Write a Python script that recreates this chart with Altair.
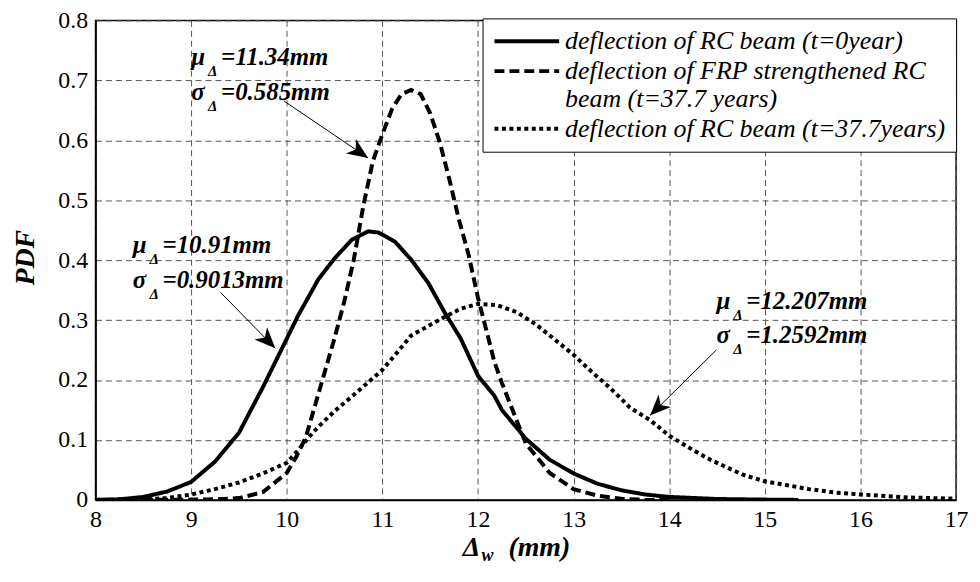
import altair as alt
import pandas as pd

# ---------------- data ----------------
series_names = [
    "deflection of RC beam (t=0year)",
    "deflection of FRP strengthened RC beam (t=37.7 years)",
    "deflection of RC beam (t=37.7years)",
]

x_rc0 = [8.0, 8.25, 8.5, 8.75, 9.0, 9.25, 9.5, 9.75, 10.0, 10.12, 10.33, 10.5, 10.68,
         10.85, 10.96, 11.13, 11.3, 11.48, 11.65, 11.82, 12.0, 12.17, 12.25, 12.5,
         12.75, 13.0, 13.25, 13.5, 13.75, 14.0, 14.5, 15.0, 15.35]
y_rc0 = [0.0, 0.001, 0.005, 0.014, 0.030, 0.064, 0.112, 0.188, 0.269, 0.308, 0.368,
         0.403, 0.434, 0.448, 0.446, 0.431, 0.401, 0.362, 0.313, 0.269, 0.207, 0.174,
         0.150, 0.102, 0.067, 0.044, 0.027, 0.016, 0.009, 0.005, 0.0015, 0.0005, 0.0]

x_frp = [8.5, 9.0, 9.25, 9.5, 9.75, 10.0, 10.1, 10.2, 10.3, 10.4, 10.5, 10.6, 10.7,
         10.8, 10.9, 11.0, 11.1, 11.2, 11.3, 11.4, 11.5, 11.6, 11.7, 11.8, 11.9,
         12.0, 12.1, 12.17, 12.25, 12.5, 12.75, 13.0, 13.25, 13.5, 13.75, 14.0]
y_frp = [0.0, 0.0005, 0.001, 0.003, 0.013, 0.045, 0.072, 0.105, 0.16, 0.215, 0.27,
         0.33, 0.40, 0.49, 0.565, 0.61, 0.652, 0.677, 0.684, 0.677, 0.645, 0.597,
         0.535, 0.468, 0.41, 0.337, 0.275, 0.231, 0.195, 0.094, 0.045, 0.018, 0.007,
         0.002, 0.0, 0.0]

x_rc37 = [8.0, 8.5, 8.75, 9.0, 9.25, 9.5, 9.75, 10.0, 10.12, 10.25, 10.33, 10.5,
          10.75, 11.0, 11.16, 11.3, 11.5, 11.65, 11.82, 12.0, 12.2, 12.41, 12.62,
          12.83, 13.0, 13.18, 13.38, 13.59, 13.8, 14.0, 14.25, 14.43, 14.77, 15.0,
          15.25, 15.46, 15.75, 16.0, 16.5, 17.0]
y_rc37 = [0.0, 0.001, 0.003, 0.009, 0.018, 0.029, 0.044, 0.062, 0.083, 0.108, 0.122,
          0.148, 0.182, 0.217, 0.247, 0.274, 0.292, 0.305, 0.319, 0.327, 0.325, 0.313,
          0.291, 0.264, 0.242, 0.215, 0.187, 0.154, 0.133, 0.107, 0.083, 0.067, 0.042,
          0.031, 0.024, 0.018, 0.012, 0.009, 0.004, 0.002]

x_ticks = [8, 9, 10, 11, 12, 13, 14, 15, 16, 17]
y_ticks = [0, 0.1, 0.2, 0.3, 0.4, 0.5, 0.6, 0.7, 0.8]

# annotations (mean / std labels)
ann_x = [9.00, 8.388, 14.493]
ann_mu_y = [0.7252, 0.4117, 0.3186]
ann_sigma_y = [0.6678, 0.354, 0.2611]
ann_mu_text = ["=11.34mm", "=10.91mm", "=12.207mm"]
ann_sigma_text = ["=0.585mm", "=0.9013mm", "=1.2592mm"]

# arrows
arr_x0 = [9.967, 9.308, 14.493]
arr_y0 = [0.6660, 0.3460, 0.2502]
arr_x1 = [10.851, 9.880, 13.799]
arr_y1 = [0.5704, 0.2529, 0.1407]
arr_angle = [124.4, 135.9, 225.0]

# ---------------- tables ----------------
rows = []
for name, xs, ys in zip(series_names, [x_rc0, x_frp, x_rc37], [y_rc0, y_frp, y_rc37]):
    for xv, yv in zip(xs, ys):
        rows.append({"series": name, "x": xv, "pdf": yv})
df = pd.DataFrame(rows)

ann_rows = []
for i in range(len(ann_x)):
    ann_rows.append({"x": ann_x[i], "y": ann_mu_y[i], "greek": "μ", "rest": ann_mu_text[i], "gdx": 0})
    ann_rows.append({"x": ann_x[i], "y": ann_sigma_y[i], "greek": "σ", "rest": ann_sigma_text[i], "gdx": 3})
ann_df = pd.DataFrame(ann_rows)

arr_df = pd.DataFrame({"x0": arr_x0, "y0": arr_y0, "x1": arr_x1, "y1": arr_y1, "ang": arr_angle})

FONT = "Liberation Serif, Times New Roman, Tinos, DejaVu Serif, Liberation Sans, sans-serif"
xscale = alt.Scale(domain=[8, 17], nice=False, zero=False)
yscale = alt.Scale(domain=[0, 0.8], nice=False, zero=False)

x_axis = alt.Axis(values=x_ticks, format="d", title=None, labelFont=FONT, labelFontSize=24,
                  labelColor="black", labelPadding=8, ticks=False, grid=True,
                  gridDash=[6, 4], gridColor="#555555", gridWidth=1,
                  domainColor="black", domainWidth=1.5, labelFlush=False)
y_axis = alt.Axis(values=y_ticks, title="PDF", labelFont=FONT, labelFontSize=24,
                  labelColor="black", labelPadding=8, ticks=False, grid=True,
                  gridDash=[6, 4], gridColor="#555555", gridWidth=1,
                  domainColor="black", domainWidth=1.5, labelFlush=False,
                  labelExpr="datum.value == 0 ? '0' : format(datum.value, '.1f')",
                  titleFont=FONT, titleFontSize=28, titleFontStyle="italic",
                  titleFontWeight="bold", titleColor="black", titleAngle=270,
                  titleX=-70, titleY=238, titleAlign="center", titleBaseline="middle")

legend = alt.Legend(
    title=None, orient="none", legendX=389, legendY=-2, direction="vertical",
    symbolType="stroke", symbolSize=4225, symbolStrokeWidth=4,
    symbolStrokeColor="black", clipHeight=26,
    labelFont=FONT, labelFontStyle="italic", labelFontSize=26, labelColor="black",
    labelLimit=800, labelOffset=4, padding=10, rowPadding=4,
    strokeColor="black", fillColor="white",
    labelExpr="indexof(datum.label, 'FRP') >= 0 ? ['deflection of FRP strengthened RC', 'beam (t=37.7 years)'] : datum.label",
)

lines = alt.Chart(df).mark_line(color="black", strokeWidth=4, strokeCap="butt",
                                 clip=True).encode(
    x=alt.X("x:Q", scale=xscale, axis=x_axis),
    y=alt.Y("pdf:Q", scale=yscale, axis=y_axis),
    strokeDash=alt.StrokeDash("series:N",
                              scale=alt.Scale(domain=series_names,
                                              range=[[1, 0], [10, 5], [4, 3.5]]),
                              legend=legend),
    order="x:Q",
)

greek = alt.Chart(ann_df).mark_text(font=FONT, fontSize=25, fontStyle="italic",
                                    fontWeight="bold", color="black", align="left",
                                    baseline="alphabetic").encode(
    x="x:Q", y="y:Q", text="greek:N", xOffset=alt.XOffset("gdx:Q", scale=None))
sub = alt.Chart(ann_df).mark_text(font=FONT, fontSize=15, fontStyle="italic",
                                  fontWeight="bold", color="black", align="left",
                                  baseline="alphabetic", dx=17, dy=11).encode(
    x="x:Q", y="y:Q", text=alt.value("Δ"))
rest = alt.Chart(ann_df).mark_text(font=FONT, fontSize=25, fontStyle="italic",
                                   fontWeight="bold", color="black", align="left",
                                   baseline="alphabetic", dx=30).encode(
    x="x:Q", y="y:Q", text="rest:N")

arrow_lines = alt.Chart(arr_df).mark_rule(color="black", strokeWidth=1).encode(
    x="x0:Q", y="y0:Q", x2="x1:Q", y2="y1:Q")
arrow_heads = alt.Chart(arr_df).mark_point(
    shape="M0,0 L-0.42,1 L0,0.72 L0.42,1 Z", filled=True, size=1764,
    color="black", opacity=1, strokeWidth=0).encode(
    x="x1:Q", y="y1:Q", angle=alt.Angle("ang:Q", scale=None))

title_df = pd.DataFrame({"t": ["x"]})
xt_delta = alt.Chart(title_df).mark_text(font=FONT, fontSize=28, fontStyle="italic",
                                         fontWeight="bold", color="black", align="left",
                                         baseline="alphabetic").encode(
    x=alt.value(369), y=alt.value(538), text=alt.value("Δ"))
xt_w = alt.Chart(title_df).mark_text(font=FONT, fontSize=18, fontStyle="italic",
                                     fontWeight="bold", color="black", align="left",
                                     baseline="alphabetic").encode(
    x=alt.value(388), y=alt.value(543), text=alt.value("w"))
xt_mm = alt.Chart(title_df).mark_text(font=FONT, fontSize=28, fontStyle="italic",
                                      fontWeight="bold", color="black", align="left",
                                      baseline="alphabetic").encode(
    x=alt.value(415), y=alt.value(538), text=alt.value("(mm)"))

chart = alt.layer(lines, arrow_lines, arrow_heads, greek, sub, rest,
                  xt_delta, xt_w, xt_mm).properties(
    width=865, height=482,
    autosize=alt.AutoSizeParams(type="none"),
    padding={"left": 88, "top": 11, "right": 16, "bottom": 67},
    background="white",
).configure_view(stroke="black", strokeWidth=1.5)

chart.save("out.html", embed_options={"renderer": "svg", "actions": False})
